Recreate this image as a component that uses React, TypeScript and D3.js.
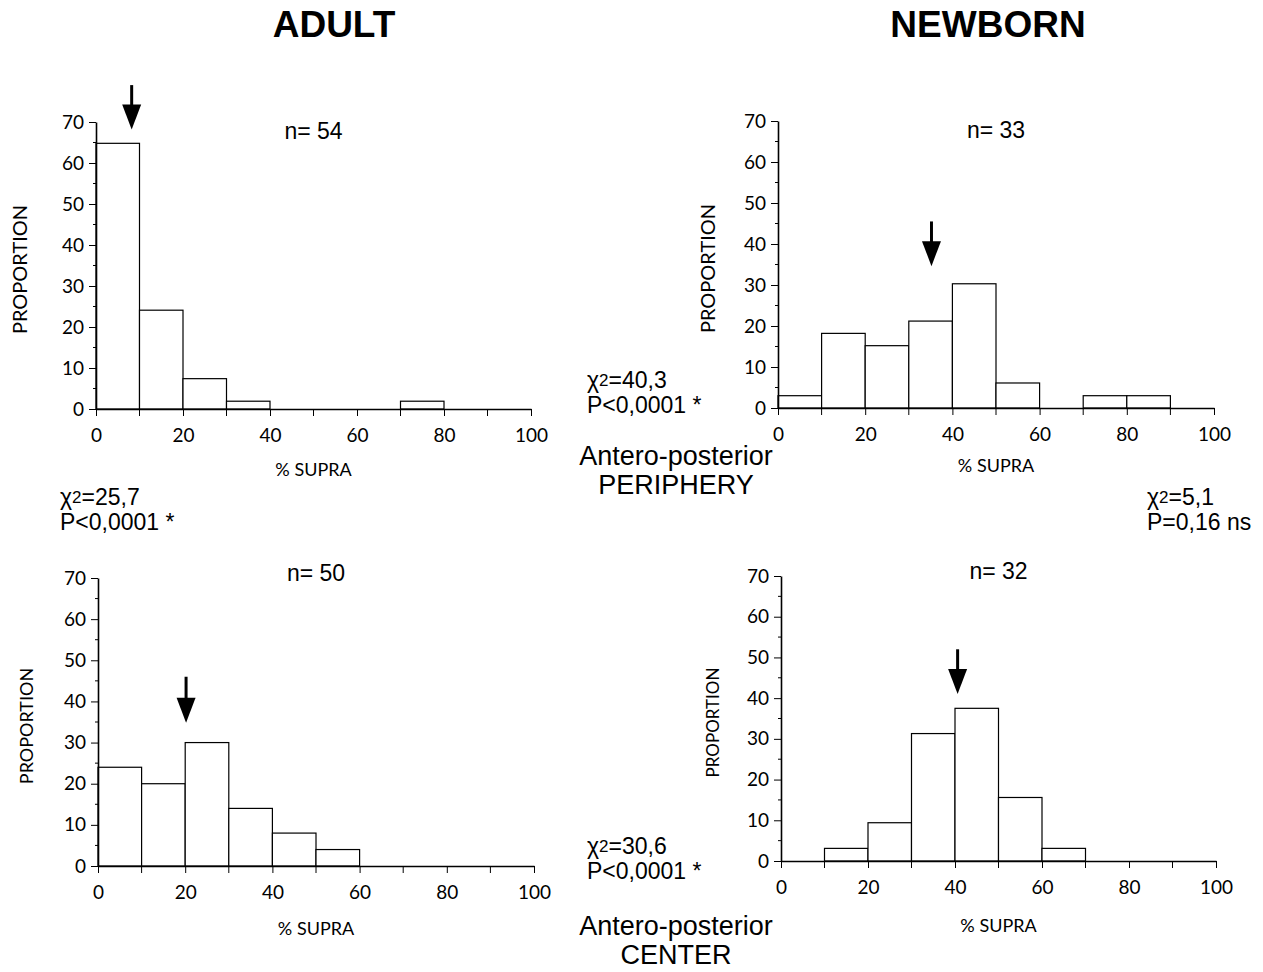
import React, { useEffect, useRef } from "react";
import * as d3 from "d3";

// bins of % SUPRA, 10 wide
const binStarts = [0, 10, 20, 30, 40, 50, 60, 70, 80, 90];

// proportion (%) per bin
const adultPeriphery = [64.8, 24.1, 7.4, 1.9, 0, 0, 0, 1.9, 0, 0];
const newbornPeriphery = [3.0, 18.2, 15.2, 21.2, 30.3, 6.1, 0, 3.0, 3.0, 0];
const adultCenter = [24, 20, 30, 14, 8, 4, 0, 0, 0, 0];
const newbornCenter = [0, 3.1, 9.4, 31.3, 37.5, 15.6, 3.1, 0, 0, 0];

const sampleSizes = [54, 33, 50, 32];

// median arrows: x position, top of shaft, tip (data units)
const arrowX = [8.2, 35.2, 20.2, 40.6];
const arrowTop = [79, 45.5, 46, 52];
const arrowTip = [68.2, 34.6, 34.8, 41];

const xTicks = [0, 20, 40, 60, 80, 100];
const yTicks = [0, 10, 20, 30, 40, 50, 60, 70];

// layout of the four panels (pixels)
const panels = [
  { values: adultPeriphery, left: 96, right: 531, top: 122, bottom: 409, yLabelX: 20, supraY: 470, propSize: 20 },
  { values: newbornPeriphery, left: 778, right: 1214, top: 121, bottom: 408, yLabelX: 708, supraY: 466, propSize: 20 },
  { values: adultCenter, left: 98, right: 534, top: 578, bottom: 866, yLabelX: 27, supraY: 929, propSize: 18 },
  { values: newbornCenter, left: 781, right: 1216, top: 576, bottom: 861, yLabelX: 713, supraY: 926, propSize: 17 },
];

const tickFont = "Lato, 'Open Sans', sans-serif";
const textFont = "'Liberation Sans', Arial, sans-serif";

function App() {
  const ref = useRef<SVGSVGElement>(null);

  useEffect(() => {
    const svg = d3.select(ref.current);
    svg.selectAll("*").remove();

    panels.forEach((p, i) => {
      const x = d3.scaleLinear().domain([0, 100]).range([p.left, p.right]);
      const y = d3.scaleLinear().domain([0, 70]).range([p.bottom, p.top]);
      const g = svg.append("g");

      // bars
      g.selectAll("rect")
        .data(binStarts.map((b, k) => [b, p.values[k]]).filter(d => d[1] > 0))
        .enter()
        .append("rect")
        .attr("x", d => x(d[0]))
        .attr("width", d => x(d[0] + 10) - x(d[0]))
        .attr("y", d => y(d[1]))
        .attr("height", d => y(0) - y(d[1]))
        .attr("fill", "white")
        .attr("stroke", "black")
        .attr("stroke-width", 1.2);

      // y axis
      const yAxis = g.append("g")
        .attr("transform", `translate(${p.left},0)`)
        .call(d3.axisLeft(y).tickValues(yTicks).tickSize(7).tickSizeOuter(0).tickPadding(5));
      yAxis.selectAll(".minor")
        .data(d3.range(5, 70, 10))
        .enter()
        .append("line")
        .attr("x1", -3).attr("x2", 0)
        .attr("y1", d => y(d)).attr("y2", d => y(d))
        .attr("stroke", "black");

      // x axis
      const xAxis = g.append("g")
        .attr("transform", `translate(0,${p.bottom})`)
        .call(d3.axisBottom(x).tickValues(xTicks).tickSize(7).tickSizeOuter(0).tickPadding(13));
      xAxis.selectAll(".minor")
        .data(d3.range(10, 100, 20))
        .enter()
        .append("line")
        .attr("x1", d => x(d)).attr("x2", d => x(d))
        .attr("y1", 0).attr("y2", 7)
        .attr("stroke", "black");

      [yAxis, xAxis].forEach(a => {
        a.select(".domain").attr("stroke-width", 1.6);
        a.selectAll("text")
          .style("font-family", tickFont)
          .style("font-size", "19px")
          .attr("fill", "black");
      });

      // axis titles
      g.append("text")
        .attr("transform", `translate(${p.yLabelX},${(p.top + p.bottom) / 2 + 4}) rotate(-90)`)
        .attr("text-anchor", "middle")
        .attr("dy", "0.35em")
        .style("font-family", tickFont)
        .style("font-size", `${p.propSize}px`)
        .text("PROPORTION");

      g.append("text")
        .attr("x", (p.left + p.right) / 2)
        .attr("y", p.supraY)
        .attr("text-anchor", "middle")
        .attr("dy", "0.35em")
        .style("font-family", tickFont)
        .style("font-size", "18px")
        .text("% SUPRA");

      g.append("text")
        .attr("x", (p.left + p.right) / 2)
        .attr("y", i < 2 ? p.top + 9 : p.top - 5)
        .attr("text-anchor", "middle")
        .attr("dy", "0.35em")
        .style("font-family", textFont)
        .style("font-size", "23px")
        .text(`n= ${sampleSizes[i]}`);

      // median arrow
      const ax = x(arrowX[i]);
      const tip = y(arrowTip[i]);
      g.append("line")
        .attr("x1", ax).attr("x2", ax)
        .attr("y1", y(arrowTop[i])).attr("y2", tip - 20)
        .attr("stroke", "black")
        .attr("stroke-width", 3);
      g.append("path")
        .attr("d", `M${ax - 9.5},${tip - 25}L${ax + 9.5},${tip - 25}L${ax},${tip}Z`)
        .attr("fill", "black");
    });

    // headers
    svg.selectAll(".head")
      .data([["ADULT", 334], ["NEWBORN", 988]])
      .enter()
      .append("text")
      .attr("x", d => d[1] as number)
      .attr("y", 37)
      .attr("text-anchor", "middle")
      .style("font-family", textFont)
      .style("font-size", "37px")
      .style("font-weight", "bold")
      .text(d => d[0] as string);

    // statistics
    const stats: [string, string, number, number][] = [
      ["40,3", "P<0,0001 *", 587, 380],
      ["25,7", "P<0,0001 *", 60, 497],
      ["5,1", "P=0,16 ns", 1147, 497],
      ["30,6", "P<0,0001 *", 587, 846],
    ];
    stats.forEach(([chi, p, sx, sy]) => {
      const t = svg.append("text")
        .attr("x", sx).attr("y", sy)
        .attr("dy", "0.35em")
        .style("font-family", textFont)
        .style("font-size", "23px");
      t.append("tspan").text("χ");
      t.append("tspan").attr("font-size", "17px").attr("dy", "-2").text("2");
      t.append("tspan").attr("dy", "2").text(`=${chi}`);
      svg.append("text")
        .attr("x", sx).attr("y", sy + 25)
        .attr("dy", "0.35em")
        .style("font-family", textFont)
        .style("font-size", "23px")
        .text(p);
    });

    // region labels
    const regions: [string, string, number][] = [
      ["Antero-posterior", "PERIPHERY", 456],
      ["Antero-posterior", "CENTER", 926],
    ];
    regions.forEach(([a, b, ry]) => {
      [a, b].forEach((s, k) => {
        svg.append("text")
          .attr("x", 676)
          .attr("y", ry + k * 29)
          .attr("text-anchor", "middle")
          .attr("dy", "0.35em")
          .style("font-family", textFont)
          .style("font-size", "27px")
          .text(s);
      });
    });
  }, []);

  return (
    <svg
      ref={ref}
      width={1263}
      height={972}
      style={{ position: "absolute", left: 0, top: 0, background: "white" }}
    />
  );
}

export default App;
